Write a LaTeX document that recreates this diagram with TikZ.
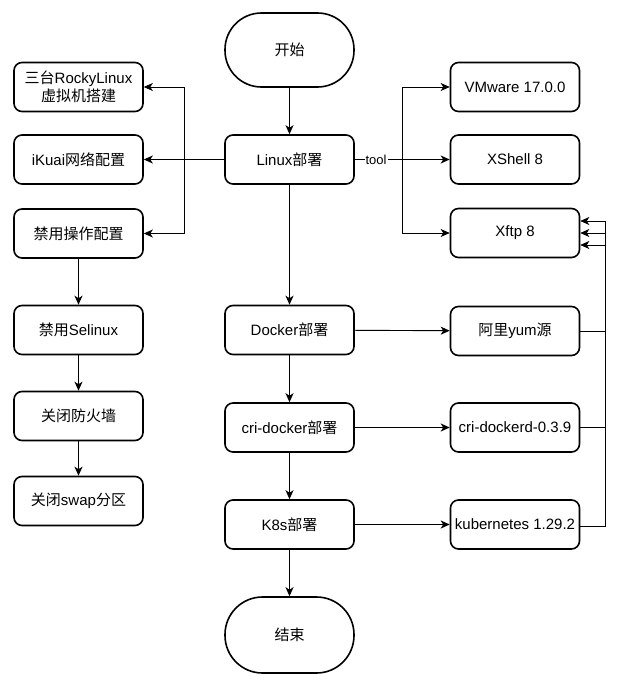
\documentclass[tikz,border=0pt]{standalone}
\usepackage{fontspec}
\setmainfont{Liberation Sans}
\newfontfamily\cjk{Noto Sans CJK SC}
\usetikzlibrary{arrows.meta,calc}
\begin{document}
\begin{tikzpicture}[x=1pt,y=-1pt,
  box/.style={draw,line width=1.6pt,rounded corners=8pt,minimum width=129pt,minimum height=49pt,inner sep=1pt,align=center,font=\fontsize{15pt}{18pt}\selectfont},
  term/.style={box,rounded corners=36.5pt,minimum height=74pt},
  arr/.style={draw,line width=0.9pt,-{Stealth[length=9pt,width=8pt,inset=2.5pt]}},
  ln/.style={draw,line width=0.9pt},
  lbl/.style={fill=white,inner sep=1pt,font=\fontsize{13pt}{15pt}\selectfont}]
\useasboundingbox (0,0) rectangle (630,685);
% middle column
\node[term] (start) at (289.5,50) {\cjk 开始};
\node[box] (linux) at (289.5,159.5) {Linux{\cjk 部署}};
\node[box] (docker) at (289.5,330) {Docker{\cjk 部署}};
\node[box] (cri) at (289.5,427.5) {cri-docker{\cjk 部署}};
\node[box] (k8s) at (289.5,524.5) {K8s{\cjk 部署}};
\node[term,minimum height=76pt,rounded corners=37.5pt] (end) at (289.5,635) {\cjk 结束};
% left column
\node[box] (b1) at (78.5,87) {{\cjk 三台}RockyLinux\\{\cjk 虚拟机搭建}};
\node[box] (b2) at (78.5,159.5) {iKuai{\cjk 网络配置}};
\node[box] (b3) at (78.5,233.5) {\cjk 禁用操作配置};
\node[box] (sel) at (78.5,330) {{\cjk 禁用}Selinux};
\node[box] (fw) at (78.5,416) {\cjk 关闭防火墙};
\node[box] (swap) at (78.5,501) {{\cjk 关闭}swap{\cjk 分区}};
% right column
\node[box] (vm) at (515,87) {VMware 17.0.0};
\node[box] (xs) at (515,159.5) {XShell 8};
\node[box] (xf) at (515,233) {Xftp 8};
\node[box] (ali) at (515,331) {{\cjk 阿里}yum{\cjk 源}};
\node[box] (crid) at (515,427.5) {cri-dockerd-0.3.9};
\node[box] (kube) at (515,524.5) {kubernetes 1.29.2};
% bus coordinates
\coordinate (lb) at (184,159.5);
\coordinate (rb) at (402,159.5);
\coordinate (bus) at (605,300);
% middle flow
\draw[arr] (start) -- (linux);
\draw[arr] (linux) -- (docker);
\draw[arr] (docker) -- (cri);
\draw[arr] (cri) -- (k8s);
\draw[arr] (k8s) -- (end);
% left flow
\draw[arr] (b3) -- (sel);
\draw[arr] (sel) -- (fw);
\draw[arr] (fw) -- (swap);
\draw[arr] (linux.west) -- (b2.east);
\draw[arr] (linux.west) -- (lb) |- (b1.east);
\draw[arr] (linux.west) -- (lb) |- (b3.east);
% tools
\draw[ln] (linux.east) -- node[lbl,pos=0.45] {tool} (rb);
\draw[arr] (rb) |- (vm.west);
\draw[arr] (rb) -- (xs.west);
\draw[arr] (rb) |- (xf.west);
% deployments
\draw[arr] (docker) -- (ali);
\draw[arr] (cri) -- (crid);
\draw[arr] (k8s) -- (kube);
% back to Xftp
\draw[arr] ([yshift=-1.5pt]kube.east) -- ([yshift=-1.5pt]kube.east -| bus) |- ([yshift=12pt]xf.east);
\draw[arr] (crid.east) -- (crid.east -| bus) |- (xf.east);
\draw[arr] (ali.east) -- (ali.east -| bus) |- ([yshift=-12pt]xf.east);
\end{tikzpicture}
\end{document}
